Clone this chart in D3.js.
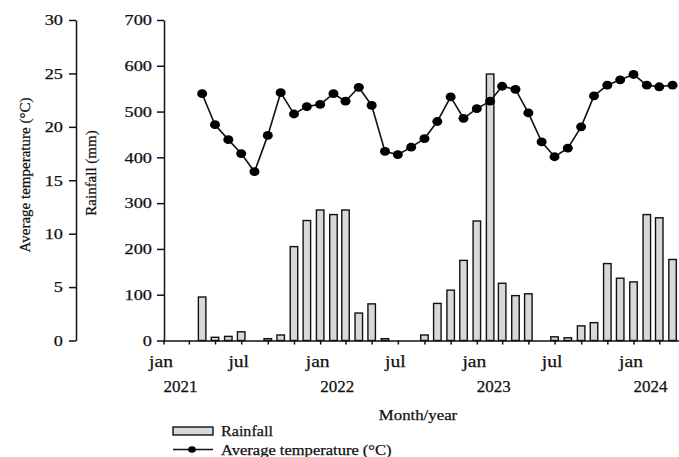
<!DOCTYPE html>
<html>
<head>
<meta charset="utf-8">
<script src="https://cdn.jsdelivr.net/npm/d3@7"></script>
<style>
  html, body { margin:0; padding:0; background:#fff; }
  svg { display:block; font-family:'Liberation Serif','Times New Roman',serif; }
  svg text { stroke:#111; stroke-width:0.25px; }
</style>
</head>
<body>
<svg id="chart" width="679" height="457"></svg>
<script>
/* ---------- data (monthly, starting jan 2021) ---------- */
const firstMonth = new Date(2021, 0, 1);
// rainfall (mm), null = no record
const rainfall = [null, null, null, 95, 7, 9, 19, 0, 4, 12, 205, 262,
                  285, 275, 285, 60, 80, 4, 0, 0, 12, 81, 110, 175,
                  261, 582, 125, 98, 102, 0, 8, 6, 32, 39, 168, 136,
                  128, 275, 268, 177];
// average temperature (°C)
const temperature = [null, null, null, 23.1, 20.2, 18.8, 17.5, 15.8, 19.2, 23.2, 21.2, 21.9,
                     22.1, 23.1, 22.4, 23.7, 22.0, 17.7, 17.4, 18.1, 18.9, 20.5, 22.8, 20.8,
                     21.7, 22.4, 23.8, 23.5, 21.3, 18.6, 17.2, 18.0, 20.0, 22.9, 23.9, 24.4,
                     24.9, 23.9, 23.75, 23.9];
const years = ['2021', '2022', '2023', '2024'];
const rainTicks = [0, 100, 200, 300, 400, 500, 600, 700];
const tempTicks = [0, 5, 10, 15, 20, 25, 30];
const monthNames = ['jan','feb','mar','apr','may','jun','jul','aug','sep','oct','nov','dec'];

const months = rainfall.map((_, i) => d3.timeMonth.offset(firstMonth, i));
const rows = months.map((m, i) => ({ month:m, rain:rainfall[i], temp:temperature[i] }));

/* ---------- layout ---------- */
const svg = d3.select('#chart');
const plotTop = 20, plotBottom = 340.5;
const rainAxisX = 164, tempAxisX = 76;

const x = d3.scaleTime()
  .domain([firstMonth, new Date(2024, 3, 16)])
  .range([rainAxisX - 0.5, 679]);
const yRain = d3.scaleLinear().domain([0, 700]).range([plotBottom, plotTop]);
const yTemp = d3.scaleLinear().domain([0, 30]).range([plotBottom, plotTop]);

// stretch text horizontally (reference glyphs are wide)
function stretch(sel, k){
  sel.each(function(){
    const len = this.getComputedTextLength();
    d3.select(this).attr('textLength', len * k).attr('lengthAdjust', 'spacingAndGlyphs');
  });
}
function styleAxis(g){
  g.select('.domain').attr('stroke', '#111').attr('stroke-width', 1.5);
  g.selectAll('.tick line').attr('stroke', '#111').attr('stroke-width', 1.5);
  g.selectAll('.tick text').attr('fill', '#111')
    .style('font-family', "'Liberation Serif','Times New Roman',serif");
}

/* ---------- bars ---------- */
const barW = 7.5;
svg.append('g').selectAll('rect')
  .data(rows.filter(d => d.rain != null && d.rain > 0))
  .join('rect')
  .attr('x', d => x(d.month) - barW / 2)
  .attr('y', d => yRain(d.rain))
  .attr('width', barW)
  .attr('height', d => yRain(0) - yRain(d.rain))
  .attr('fill', '#d8d8d8')
  .attr('stroke', '#111')
  .attr('stroke-width', 1.4);

/* ---------- temperature line ---------- */
const tempRows = rows.filter(d => d.temp != null);
svg.append('path')
  .datum(tempRows)
  .attr('fill', 'none')
  .attr('stroke', '#111')
  .attr('stroke-width', 1.6)
  .attr('d', d3.line().x(d => x(d.month)).y(d => yTemp(d.temp)));
svg.append('g').selectAll('ellipse')
  .data(tempRows)
  .join('ellipse')
  .attr('cx', d => x(d.month))
  .attr('cy', d => yTemp(d.temp))
  .attr('rx', 5).attr('ry', 4.4)
  .attr('fill', '#000');

/* ---------- axes ---------- */
const xAxis = svg.append('g')
  .attr('transform', `translate(0,${plotBottom})`)
  .call(d3.axisBottom(x)
    .ticks(d3.timeMonth.every(2))
    .tickSize(4).tickSizeOuter(0)
    .tickPadding(10)
    .tickFormat(d => (d.getMonth() % 6 === 0) ? monthNames[d.getMonth()] : ''));
styleAxis(xAxis);
xAxis.selectAll('.tick text').style('font-size', '17px').attr('dx', -3);
stretch(xAxis.selectAll('.tick text'), 1.15);

const rainAxis = svg.append('g')
  .attr('transform', `translate(${rainAxisX},0)`)
  .call(d3.axisLeft(yRain).tickValues(rainTicks).tickSize(7).tickSizeOuter(0).tickPadding(5));
styleAxis(rainAxis);
rainAxis.selectAll('.tick text').style('font-size', '15px');
stretch(rainAxis.selectAll('.tick text'), 1.22);

const tempAxis = svg.append('g')
  .attr('transform', `translate(${tempAxisX},0)`)
  .call(d3.axisLeft(yTemp).tickValues(tempTicks).tickSize(7).tickSizeOuter(0).tickPadding(6));
styleAxis(tempAxis);
tempAxis.selectAll('.tick text').style('font-size', '15px');
stretch(tempAxis.selectAll('.tick text'), 1.22);

// year labels, under each january
svg.append('g').selectAll('text')
  .data(years)
  .join('text')
  .attr('x', d => x(new Date(+d, 0, 1)) + 17)
  .attr('y', 392)
  .attr('text-anchor', 'middle')
  .style('font-size', '17px')
  .attr('fill', '#111')
  .text(d => d);

/* ---------- titles ---------- */
svg.append('text')
  .attr('transform', 'translate(30,175) rotate(-90)')
  .attr('text-anchor', 'middle')
  .style('font-size', '15px').attr('fill', '#111')
  .text('Average temperature (°C)');
svg.append('text')
  .attr('transform', 'translate(96,173) rotate(-90)')
  .attr('text-anchor', 'middle')
  .style('font-size', '15px').attr('fill', '#111')
  .text('Rainfall (mm)');
const xTitle = svg.append('text')
  .attr('x', 418).attr('y', 420)
  .attr('text-anchor', 'middle')
  .style('font-size', '15px').attr('fill', '#111')
  .text('Month/year');
stretch(xTitle, 1.12);

/* ---------- legend ---------- */
const legend = svg.append('g').attr('transform', 'translate(173,0)');
legend.append('rect')
  .attr('x', 0).attr('y', 427).attr('width', 40).attr('height', 8)
  .attr('fill', '#d8d8d8').attr('stroke', '#111').attr('stroke-width', 1.4);
const lg1 = legend.append('text')
  .attr('x', 48).attr('y', 436)
  .style('font-size', '14px').attr('fill', '#111')
  .text('Rainfall');
legend.append('line')
  .attr('x1', 0).attr('x2', 40).attr('y1', 449.5).attr('y2', 449.5)
  .attr('stroke', '#111').attr('stroke-width', 1.5);
legend.append('ellipse')
  .attr('cx', 19).attr('cy', 449.5).attr('rx', 3.8).attr('ry', 3.3)
  .attr('fill', '#000');
const lg2 = legend.append('text')
  .attr('x', 48).attr('y', 455)
  .style('font-size', '14px').attr('fill', '#111')
  .text('Average temperature (°C)');
stretch(lg1, 1.15);
stretch(lg2, 1.18);
</script>
</body>
</html>
